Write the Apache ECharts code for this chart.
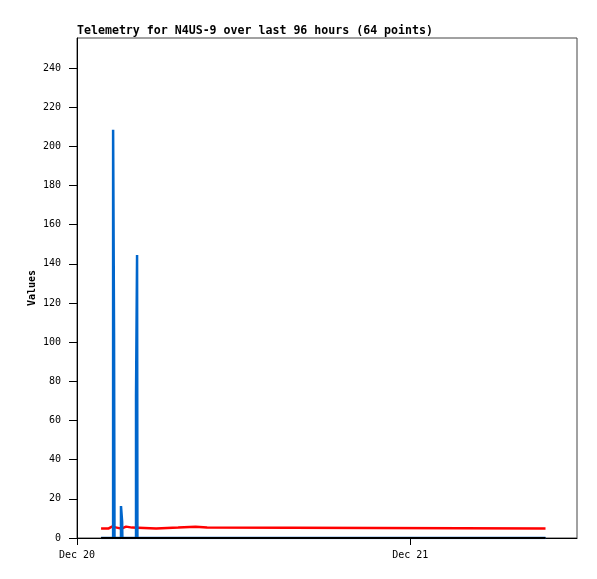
<!DOCTYPE html>
<html>
<head>
<meta charset="utf-8">
<script src="https://cdn.jsdelivr.net/npm/echarts@6/dist/echarts.min.js"></script>
<style>html,body{margin:0;padding:0;background:#fff}#c{width:597px;height:579px}</style>
</head>
<body>
<div id="c"></div>
<script>
var titleText = 'Telemetry for N4US-9 over last 96 hours (64 points)';
var yTicks = [0, 20, 40, 60, 80, 100, 120, 140, 160, 180, 200, 220, 240];
var xTickDates = ['2020-12-20T00:00:00Z', '2020-12-21T00:00:00Z'];
var xStart = '2020-12-20T00:00:00Z';
var xEnd = '2020-12-21T12:00:00Z';
var yMax = 255.3;

// red series (step)
var redTimes = ['2020-12-20T01:44:00Z','2020-12-20T02:15:00Z','2020-12-20T02:31:00Z','2020-12-20T03:12:00Z',
  '2020-12-20T03:32:00Z','2020-12-20T03:58:00Z','2020-12-20T05:42:00Z','2020-12-20T07:17:00Z',
  '2020-12-20T08:32:00Z','2020-12-20T09:22:00Z','2020-12-21T09:44:00Z'];
var redValues = [4.8, 5.8, 4.8, 5.8, 5.3, 4.8, 5.3, 5.8, 5.3, 4.8, 4.8];

// blue series (step)
var blueTimes = ['2020-12-20T01:44:00Z','2020-12-20T02:36:00Z','2020-12-20T02:40:00Z','2020-12-20T02:42:00Z',
  '2020-12-20T03:10:00Z','2020-12-20T03:15:00Z','2020-12-20T03:16:00Z',
  '2020-12-20T04:15:00Z','2020-12-20T04:19:30Z','2020-12-20T04:21:00Z','2020-12-21T09:44:00Z'];
var blueValues = [0, 208.4, 104.2, 0, 16.3, 8.2, 0, 72.5, 144.5, 0, 0];

// black series (zero line)
var blackTimes = ['2020-12-20T01:44:00Z', '2020-12-21T09:44:00Z'];
var blackValues = [0, 0];

var months = ['Jan','Feb','Mar','Apr','May','Jun','Jul','Aug','Sep','Oct','Nov','Dec'];
function t(s){ return new Date(s).getTime(); }
function pairs(ts, vs){ return ts.map(function(s,i){ return [t(s), vs[i]]; }); }

var font = '"DejaVu Sans Mono", "Liberation Mono", monospace';
var chart = echarts.init(document.getElementById('c'));
chart.setOption({
  animation: false,
  backgroundColor: '#fff',
  title: {
    text: titleText, left: 77, top: 25, padding: 0,
    textStyle: { fontFamily: font, fontWeight: 'bold', fontSize: 11.6, color: '#000' }
  },
  grid: { left: 77, right: 20, top: 38, bottom: 41, show: true, borderColor: '#444', borderWidth: 1, containLabel: false, outerBoundsMode: 'none' },
  xAxis: {
    type: 'value', min: t(xStart), max: t(xEnd),
    axisLine: { show: true, lineStyle: { color: '#000', width: 1 } },
    axisTick: { show: true, length: 7, inside: false, customValues: xTickDates.map(t), lineStyle: { color: '#000' } },
    axisLabel: {
      customValues: xTickDates.map(t), margin: 12, color: '#000', fontFamily: font, fontSize: 10,
      formatter: function(v){ var d = new Date(v); return months[d.getUTCMonth()] + ' ' + d.getUTCDate(); }
    },
    splitLine: { show: false }
  },
  yAxis: {
    type: 'value', min: 0, max: yMax,
    name: 'Values', nameLocation: 'middle', nameGap: 40, nameRotate: 90, nameMoveOverlap: false,
    nameTextStyle: { fontFamily: font, fontWeight: 'bold', fontSize: 10, color: '#000' },
    axisLine: { show: true, lineStyle: { color: '#000', width: 1 } },
    axisTick: { show: true, length: 8, customValues: yTicks, lineStyle: { color: '#000' } },
    axisLabel: { customValues: yTicks, margin: 16, color: '#000', fontFamily: font, fontSize: 10 },
    splitLine: { show: false }
  },
  series: [
    { type: 'line', step: 'end', data: pairs(redTimes, redValues), showSymbol: false, symbol: 'none',
      lineStyle: { color: '#ff0000', width: 2.5 }, itemStyle: { color: '#ff0000' } },
    { type: 'line', step: 'end', data: pairs(blueTimes, blueValues), showSymbol: false, symbol: 'none',
      lineStyle: { color: '#0066cc', width: 2.5 }, itemStyle: { color: '#0066cc' } },
    { type: 'line', data: pairs(blackTimes, blackValues), showSymbol: false, symbol: 'none',
      lineStyle: { color: '#000', width: 2 }, itemStyle: { color: '#000' } }
  ]
});
</script>
</body>
</html>
